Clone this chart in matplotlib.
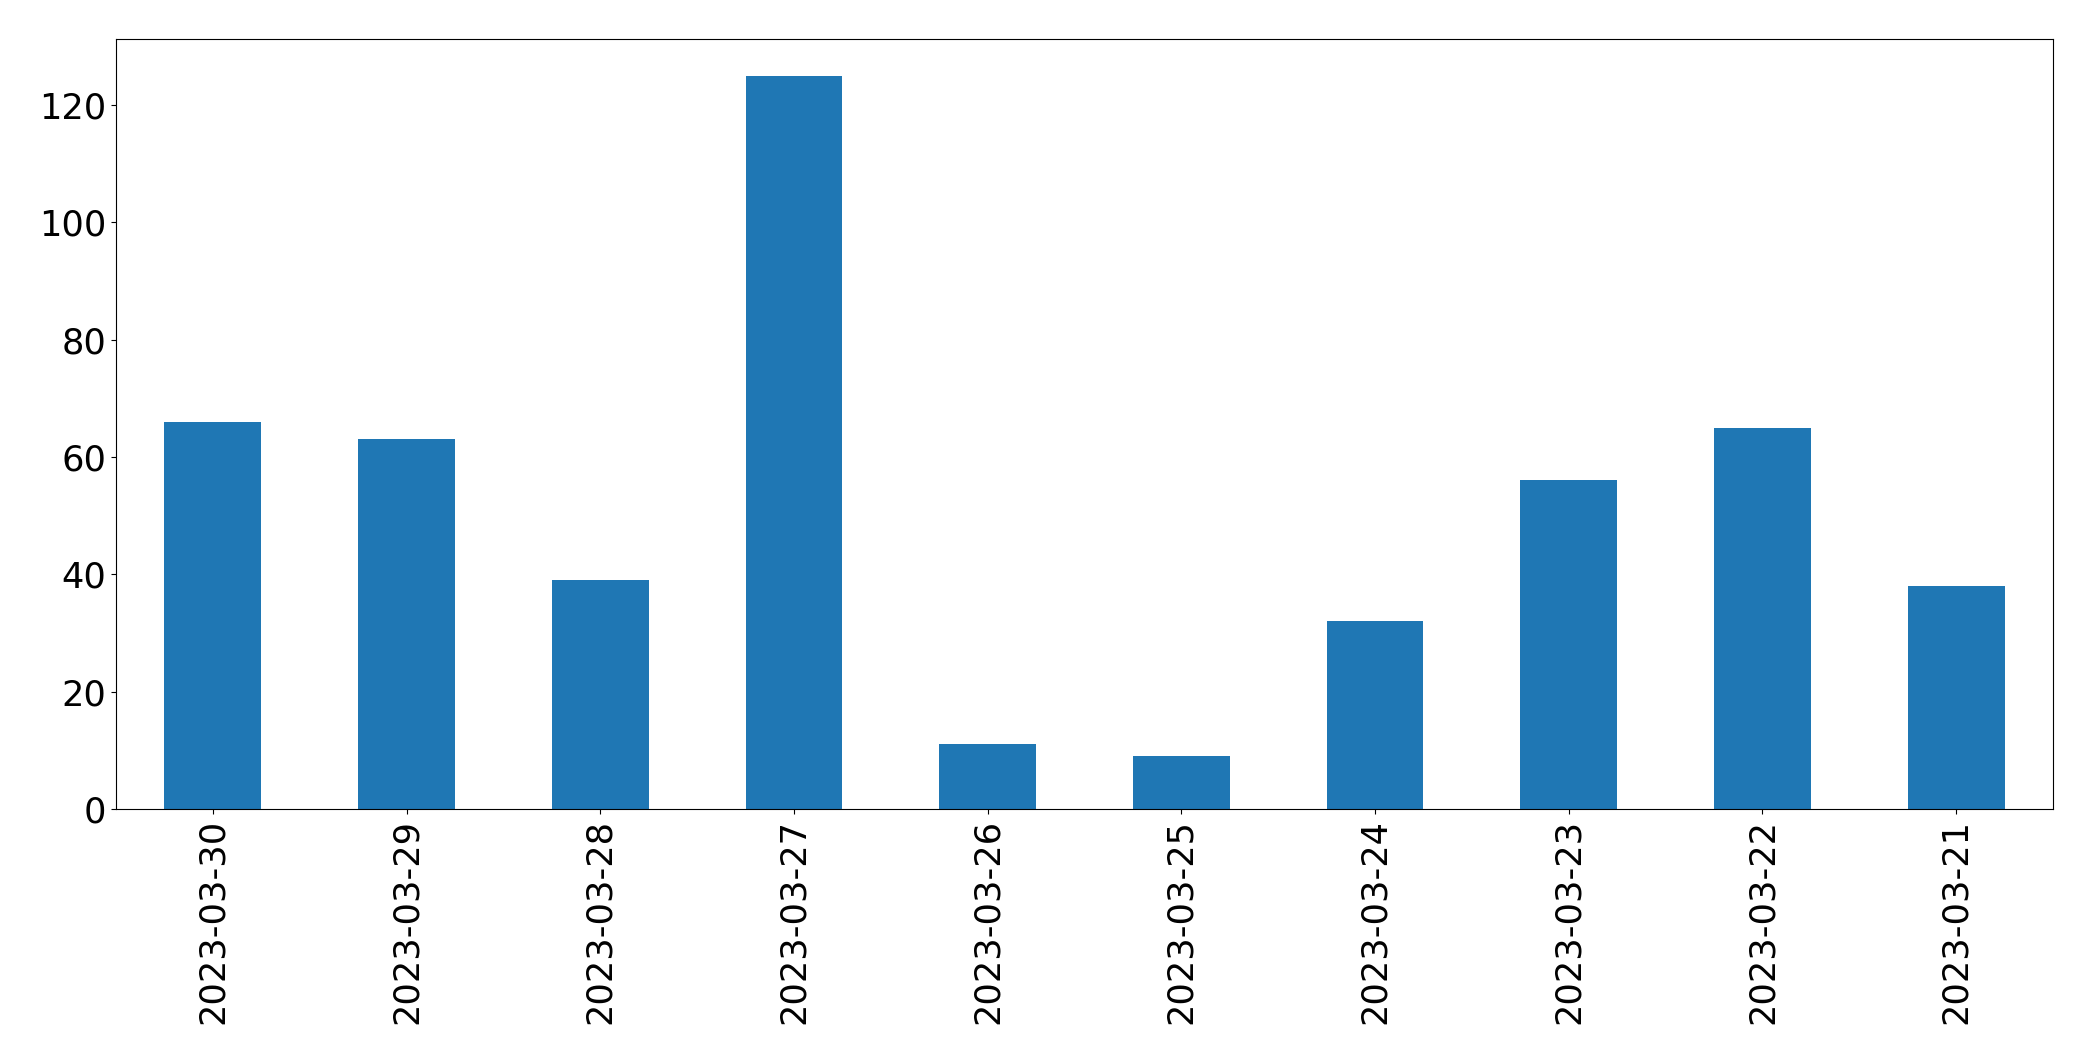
import matplotlib
matplotlib.use("Agg")
import matplotlib.pyplot as plt
import pandas as pd

# daily counts, newest first
dates = ["2023-03-30", "2023-03-29", "2023-03-28", "2023-03-27", "2023-03-26",
         "2023-03-25", "2023-03-24", "2023-03-23", "2023-03-22", "2023-03-21"]
counts = [66, 63, 39, 125, 11, 9, 32, 56, 65, 38]

s = pd.Series(counts, index=dates)

fig, ax = plt.subplots(figsize=(20.93, 10.61), dpi=100)
s.plot(kind="bar", ax=ax, color="#1f77b4")
ax.tick_params(axis="both", labelsize=25.3)
fig.subplots_adjust(left=116/2093, right=2053/2093, top=1-39/1061, bottom=1-809/1061)

fig.savefig("out.png", dpi=100)
